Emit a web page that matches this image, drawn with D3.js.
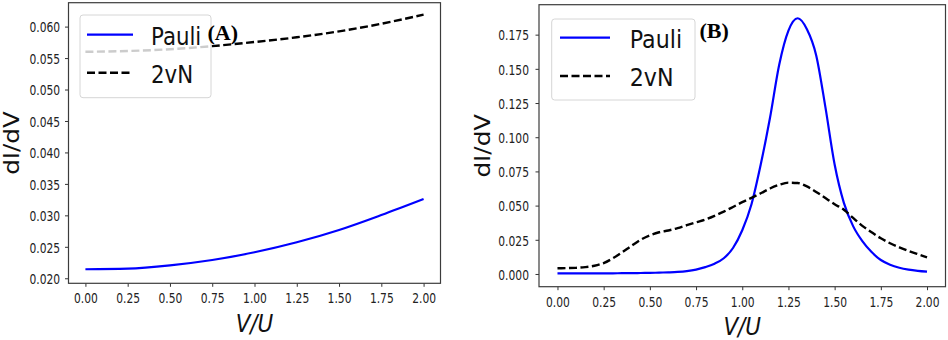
<!DOCTYPE html>
<html>
<head>
<meta charset="utf-8">
<script src="https://cdn.jsdelivr.net/npm/d3@7"></script>
<style>
  body { margin: 0; background: #fff; }
  svg { display: block; }
</style>
</head>
<body>
<svg id="fig" width="948" height="340"></svg>
<script>
// tick values
var xTicks = [0, 0.25, 0.5, 0.75, 1, 1.25, 1.5, 1.75, 2];
var yTicksA = [0.020, 0.025, 0.030, 0.035, 0.040, 0.045, 0.050, 0.055, 0.060];
var yTicksB = [0, 0.025, 0.050, 0.075, 0.100, 0.125, 0.150, 0.175];

// panel A series
var vA = [0, 0.25, 0.5, 0.75, 1, 1.25, 1.5, 1.75, 2];
var pauliA = [0.02143, 0.02153, 0.02205, 0.02290, 0.02413, 0.02572, 0.02768, 0.03005, 0.03260];
var twoVNA = [0.05600, 0.05612, 0.05640, 0.05690, 0.05755, 0.05830, 0.05925, 0.06045, 0.06190];

// panel B series
var vB = [0, 0.05, 0.1, 0.15, 0.2, 0.25, 0.3, 0.35, 0.4, 0.45,
          0.5, 0.55, 0.6, 0.65, 0.7, 0.75, 0.8, 0.85, 0.9, 0.95,
          1, 1.05, 1.1, 1.15, 1.2, 1.25, 1.3, 1.35, 1.4, 1.45,
          1.5, 1.55, 1.6, 1.65, 1.7, 1.75, 1.8, 1.85, 1.9, 1.95, 2];
var pauliB = [0.0005, 0.0005, 0.0005, 0.0005, 0.0005, 0.0005, 0.0005, 0.0006, 0.0006, 0.0007,
              0.0008, 0.0010, 0.0012, 0.0015, 0.0021, 0.0032, 0.0050, 0.0075, 0.0115, 0.0190,
              0.0320, 0.0510, 0.0800, 0.1140, 0.1530, 0.1780, 0.1870, 0.1790, 0.1600, 0.1220,
              0.0800, 0.0520, 0.0350, 0.0240, 0.0160, 0.0102, 0.0068, 0.0046, 0.0032, 0.0023, 0.0017];
var twoVNB = [0.0042, 0.0043, 0.0045, 0.0050, 0.0060, 0.0080, 0.0115, 0.0158, 0.0205, 0.0250,
              0.0283, 0.0305, 0.0318, 0.0335, 0.0357, 0.0378, 0.0398, 0.0425, 0.0456, 0.0490,
              0.0525, 0.0557, 0.0590, 0.0625, 0.0652, 0.0668, 0.0665, 0.0640, 0.0600, 0.0555,
              0.0510, 0.0470, 0.0410, 0.0352, 0.0305, 0.0261, 0.0225, 0.0195, 0.0168, 0.0145, 0.0122];

var seriesNames = ["Pauli", "2vN"];

var svg = d3.select("#fig");
var squeeze = 0.74;

var panels = [
  { v: vA, pauli: pauliA, tvn: twoVNA, yTicks: yTicksA, yDom: [0.0192, 0.0638],
    left: 68.5, right: 440.5, top: 2.7, bottom: 283.3,
    yLabGap: 8.3, xLabY: 20, ylabX: 19, xlabY: 331.7,
    leg: {x: 80, y: 15, w: 131, h: 82.7, lx: 87, lw: 46, tx: 151, y1: 34.7, b1: 45, y2: 72.7, b2: 82.7, fs: 24.5},
    tag: "(A)", tagX: 207.5, tagY: 40 },
  { v: vB, pauli: pauliB, tvn: twoVNB, yTicks: yTicksB, yDom: [-0.0093, 0.1969],
    left: 539, right: 945.5, top: 4.7, bottom: 286.7,
    yLabGap: 10, xLabY: 20.6, ylabX: 490, xlabY: 335,
    leg: {x: 551.7, y: 19, w: 143.3, h: 81, lx: 560, lw: 50, tx: 629.7, y1: 37.7, b1: 48.3, y2: 76, b2: 86, fs: 25.5},
    tag: "(B)", tagX: 699.5, tagY: 38 }
];

panels.forEach(drawPanel);

function drawPanel(p){
  var x = d3.scaleLinear().domain([-0.1, 2.1]).range([p.left, p.right]);
  var y = d3.scaleLinear().domain(p.yDom).range([p.bottom, p.top]);
  var g = svg.append("g");

  // x axis
  var xa = g.append("g")
    .attr("transform", "translate(0," + p.bottom + ")")
    .call(d3.axisBottom(x).tickValues(xTicks).tickFormat(d3.format(".2f")).tickSize(3.5).tickSizeOuter(0));
  xa.select(".domain").remove();
  xa.attr("color", "#333").attr("font-family", "DejaVu Sans").attr("font-size", 14.5);
  xa.selectAll("text")
    .attr("y", p.xLabY).attr("dy", null)
    .attr("fill", "#222")
    .attr("transform", "scale(" + squeeze + ",1)");

  // y axis
  var ya = g.append("g")
    .attr("transform", "translate(" + p.left + ",0)")
    .call(d3.axisLeft(y).tickValues(p.yTicks).tickFormat(d3.format(".3f")).tickSize(3.5).tickSizeOuter(0));
  ya.select(".domain").remove();
  ya.attr("color", "#333").attr("font-family", "DejaVu Sans").attr("font-size", 14.5);
  ya.selectAll("text")
    .attr("x", -p.yLabGap / squeeze).attr("dy", "0.36em")
    .attr("fill", "#222")
    .attr("transform", "scale(" + squeeze + ",1)");

  // frame
  g.append("rect")
    .attr("x", p.left).attr("y", p.top)
    .attr("width", p.right - p.left).attr("height", p.bottom - p.top)
    .attr("fill", "none").attr("stroke", "#3c3c3c").attr("stroke-width", 1.2);

  // curves
  var line = d3.line()
    .x(function(d){ return x(d[0]); })
    .y(function(d){ return y(d[1]); })
    .curve(d3.curveMonotoneX);

  g.append("path")
    .datum(d3.zip(p.v, p.pauli))
    .attr("d", line)
    .attr("fill", "none").attr("stroke", "#0000ff").attr("stroke-width", 2.2);

  g.append("path")
    .datum(d3.zip(p.v, p.tvn))
    .attr("d", line)
    .attr("fill", "none").attr("stroke", "#000").attr("stroke-width", 2.4)
    .attr("stroke-dasharray", "8,3.5");

  // axis titles
  g.append("text")
    .attr("transform", "translate(" + p.ylabX + "," + ((p.top + p.bottom) / 2) + ") rotate(-90) scale(1.2,1)")
    .attr("text-anchor", "middle")
    .attr("font-family", "DejaVu Sans").attr("font-size", 20.5)
    .attr("fill", "#111")
    .text("dI/dV");

  g.append("text")
    .attr("transform", "translate(" + ((p.left + p.right) / 2) + "," + p.xlabY + ") scale(0.86,1)")
    .attr("text-anchor", "middle")
    .attr("font-family", "DejaVu Sans").attr("font-style", "italic").attr("font-size", 25)
    .attr("fill", "#111")
    .text("V/U");

  // legend
  var L = p.leg;
  g.append("rect")
    .attr("x", L.x).attr("y", L.y).attr("width", L.w).attr("height", L.h)
    .attr("rx", 3).attr("ry", 3)
    .attr("fill", "#fff").attr("fill-opacity", 0.8)
    .attr("stroke", "#d6d6d6").attr("stroke-width", 1);

  g.append("line")
    .attr("x1", L.lx).attr("x2", L.lx + L.lw).attr("y1", L.y1).attr("y2", L.y1)
    .attr("stroke", "#0000ff").attr("stroke-width", 2.2);
  g.append("line")
    .attr("x1", L.lx).attr("x2", L.lx + L.lw).attr("y1", L.y2).attr("y2", L.y2)
    .attr("stroke", "#000").attr("stroke-width", 2.4).attr("stroke-dasharray", "8,3.5");

  [L.b1, L.b2].forEach(function(b, i){
    g.append("text")
      .attr("transform", "translate(" + L.tx + "," + b + ") scale(0.87,1)")
      .attr("font-family", "DejaVu Sans").attr("font-size", L.fs)
      .attr("fill", "#111")
      .text(seriesNames[i]);
  });

  // panel tag
  g.append("text")
    .attr("x", p.tagX).attr("y", p.tagY)
    .attr("font-family", "Liberation Serif").attr("font-weight", "bold").attr("font-size", 22)
    .attr("fill", "#000")
    .text(p.tag);
}
</script>
</body>
</html>
